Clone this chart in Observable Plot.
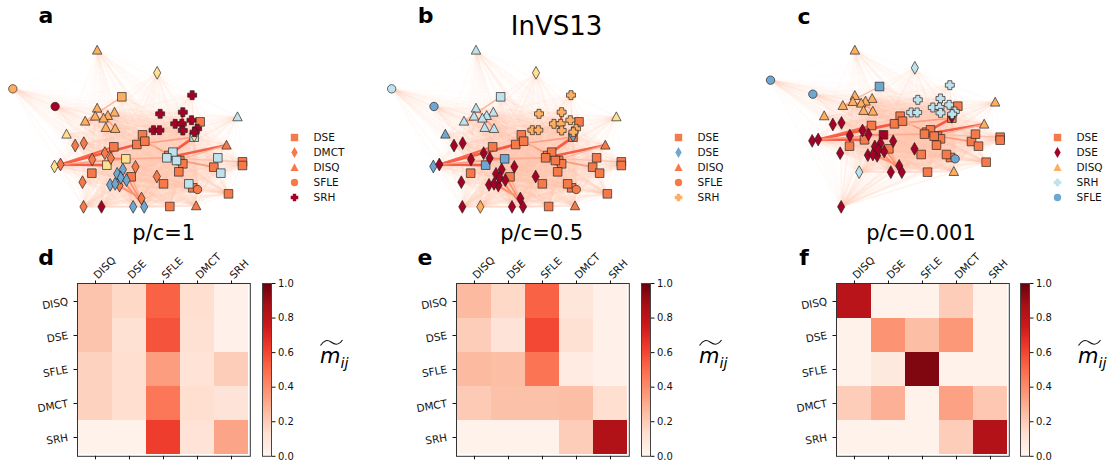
<!DOCTYPE html>
<html><head><meta charset="utf-8">
<script src="https://cdn.jsdelivr.net/npm/d3@7"></script>
<script src="https://cdn.jsdelivr.net/npm/@observablehq/plot@0.6"></script>
<style>
html,body{margin:0;padding:0;background:#fff}
#fig{position:relative;width:1111px;height:467px;overflow:hidden;font-family:"DejaVu Sans",sans-serif;color:#000}
#fig>svg,#fig>div{position:absolute}
.lab{font-weight:bold;font-size:22px;transform:translate(-50%,-50%);line-height:1}
.ttl{font-size:21px;transform:translate(-50%,-50%);line-height:1;white-space:nowrap}
.mij{font-size:21px;font-style:italic;line-height:1;white-space:nowrap}
.mij sub{font-size:14.5px;vertical-align:-5px;line-height:0}
</style></head><body><div id="fig"></div>
<script>
// node ids, shapes (layout units are 3x pixels)
const nodeId = ["s1","s2","s3","s4","s5","s6","s7","s8","s9","s10","s15","s16","s17","s18","s19","s21","s23","s25","s26","s27","s28","s11","s12","s13","s14","s20","s22","s24",
 "t1","t2","t3","t4","t5","t6","t7","t8","t9","t10","t11","t12","t13",
 "c1","c2","c3",
 "d1","d2","d3","d4","d5","d6","d7","d8","d9","d10","d11","d12","d13","d14","d15","d16","d17","d18","d19","d20","d21","d22","d23","d24",
 "p1","p2","p3","p4","p5","p6","p7","p8","p9","p10","p11"];
const nodeX = [364,426,409,433,340,376,319,274,392,599,505,538,547,535,489,577,640,726,726,684,508,581,517,499,528,565,652,661,
 290,290,342,322,284,309,254,316,344,198,711,678,587,
 37,164,591,
 470,224,250,313,275,331,162,180,405,469,246,357,367,350,361,378,329,344,423,398,431,249,303,581,
 575,479,547,573,524,544,459,477,547,590,582];
const nodeYab = [289,403,432,422,439,475,494,518,529,364,465,480,490,514,550,562,500,484,495,580,618,410,455,472,480,550,472,518,
 149,323,335,345,347,353,362,381,384,401,349,434,616,
 265,318,567,
 217,435,428,458,477,473,498,492,499,528,545,555,507,520,532,539,553,550,594,619,619,619,619,405,
 284,340,335,359,370,370,389,389,390,385,395];
const nodeYc = [258,347,370,362,375,403,418,437,445,317,395,407,415,434,462,471,423,410,419,485,515,353,388,401,407,462,401,437,
 149,285,294,302,303,308,315,330,332,346,305,371,513,
 239,281,475,
 202,372,367,390,405,402,421,417,422,445,458,466,428,438,448,453,464,462,496,515,515,619,515,349,
 254,298,294,313,321,321,336,336,337,333,341];
// community class of every node, one letter per node: O orange, L light orange, Y yellow, B pale blue, M mid blue, R dark red
const classA = "LOOOOYYOOOOOOOOOOOOOOBBBBBBBLLLLLLLLLYBOOLRO" + "YOOOOOYOOOOOMMMMMMOMMORY" + "RRRRRRRRRRR";
const classB = "BOOOOMMOOOOOOOOOOOOOOOOOOOOOBBBBBBBBBMYOOBMO" + "YRRRRRMRRRRRRRRRRRRRRRLM" + "LLLLLLLLLLL";
const classC = "MOOOOROOOOOOOOOOOOOOOOOOOOOOLLLLLLLLLLLLLMMM" + "BRRRRRRRRRRRRRRRRRRRRRBR" + "BBBBBBBBBBB";
const classDomain = ["O","L","Y","B","M","R"];
const classColors = ["#f67a49","#fdae61","#fee090","#bfe2ec","#6fa7d1","#a50026"];
// nodes of the lower rim, whose pale edges read as a wider wash
const rimNodes = ["s28","t13","s27","d19","d20","d21","d22","d23","c3","s21"];
// the strong edges
const edgeFrom = ["d8","d8","d8","d8","s6","s4","s13","s13","s3","s12","s13","t12","p6","s7","d13","d14","d18","d12","s1","t7","t2","s9","s2","d6"];
const edgeTo   = ["s3","s7","s5","s6","s13","s16","s23","s25","s11","s11","t12","s14","p3","s5","d21","d21","d19","d19","t7","t6","t9","d21","s18","s6"];
const edgeW    = [0.56,0.56,0.52,0.34,0.3,0.36,0.36,0.24,0.34,0.56,0.55,0.28,0.6,0.5,0.4,0.42,0.44,0.36,0.27,0.38,0.34,0.3,0.2,0.42];
const edgeWid  = [2.7,2.7,2.1,1.7,1.8,1.7,1.7,1.3,1.6,2.6,2.6,1.3,2.2,1.9,1.6,1.7,1.7,1.5,1.4,1.6,1.6,1.3,1,1.6];

const categories = ["DISQ","DSE","SFLE","DMCT","SRH"];
const matrixD = [[.22,.15,.52,.13,.03],[.22,.12,.56,.12,.03],[.17,.13,.34,.11,.19],[.17,.13,.46,.13,.1],[.02,.02,.62,.11,.32]];
const matrixE = [[.25,.15,.52,.09,.03],[.19,.1,.59,.12,.03],[.25,.24,.47,.06,.03],[.2,.23,.23,.24,.13],[.02,.02,.02,.19,.84]];
const matrixF = [[.81,.02,.02,.19,.02],[.02,.37,.24,.36,.02],[.02,.07,.95,.02,.02],[.19,.28,.02,.33,.21],[.02,.02,.02,.19,.83]];
const redsStops = ["#fff5f0","#fee0d2","#fcbba1","#fc9272","#fb6a4a","#ef3b2c","#cb181d","#a50f15","#67000d"];
const redsAt = redsStops.map((_,i)=>i/8);
const redsScale = {type:"linear",domain:redsAt,range:redsStops,interpolate:"rgb"};
const redsFn = d3.scaleLinear(redsAt,redsStops);

const legendA = {labels:["DSE","DMCT","DISQ","SFLE","SRH"],shapes:["s","d","t","c","p"],classes:["O","O","O","O","R"]};
const legendB = {labels:["DSE","DSE","DISQ","SFLE","SRH"],shapes:["s","d","t","c","p"],classes:["O","M","O","O","L"]};
const legendC = {labels:["DSE","DSE","DISQ","SRH","SFLE"],shapes:["s","d","t","p","c"],classes:["O","R","L","B","M"]};

const sym = {
 s:{draw(c,z){const r=Math.sqrt(z/Math.PI);c.rect(-r,-r,2*r,2*r);}},
 d:{draw(c,z){const r=Math.sqrt(z/Math.PI);c.moveTo(0,-1.52*r);c.lineTo(.86*r,0);c.lineTo(0,1.52*r);c.lineTo(-.86*r,0);c.closePath();}},
 t:{draw(c,z){const r=Math.sqrt(z/Math.PI);c.moveTo(0,-1.15*r);c.lineTo(1.1*r,.92*r);c.lineTo(-1.1*r,.92*r);c.closePath();}},
 c:{draw(c,z){const r=Math.sqrt(z/Math.PI);c.moveTo(r,0);c.arc(0,0,r,0,2*Math.PI);c.closePath();}},
 p:{draw(c,z){const r=Math.sqrt(z/Math.PI)*1.02,a=.45*r;c.moveTo(-a,-r);c.lineTo(a,-r);c.lineTo(a,-a);c.lineTo(r,-a);c.lineTo(r,a);c.lineTo(a,a);c.lineTo(a,r);c.lineTo(-a,r);c.lineTo(-a,a);c.lineTo(-r,a);c.lineTo(-r,-a);c.lineTo(-a,-a);c.closePath();}}
};
const fig = document.getElementById("fig");
function place(el,l,t){el.style.left=l+"px";el.style.top=t+"px";fig.appendChild(el);return el;}
function label(cls,txt,x,y){const d=document.createElement("div");d.className=cls;d.textContent=txt;place(d,x,y);return d;}

function network(left,shift,ys,cls){
 const nodes = nodeId.map((id,i)=>({id,x:nodeX[i],y:ys[i],cl:cls[i],shape:id[0]}));
 const byId = new Map(nodes.map(n=>[n.id,n]));
 const pairs=[];
 for(let i=0;i<nodes.length;i++)for(let j=i+1;j<nodes.length;j++)pairs.push([nodes[i],nodes[j]]);
 const rimPairs = rimNodes.flatMap(id=>nodes.filter(n=>n.id!==id).map(n=>[byId.get(id),n]));
 const edges = edgeFrom.map((f,i)=>({a:byId.get(f),b:byId.get(edgeTo[i]),w:edgeW[i],sw:edgeWid[i]}));
 const groups = ["s","t","c","d","p"];
 const rank = c=>c==="O"?0:1;
 const rad = {s:4.3,t:4.3,c:4.2,d:4.2,p:4.4};
 const pale = {x1:d=>d[0].x,y1:d=>d[0].y,x2:d=>d[1].x,y2:d=>d[1].y,stroke:"#fdd0bd"};
 const marks = [
  Plot.link(pairs,{...pale,strokeOpacity:.042,strokeWidth:1.3}),
  Plot.link(rimPairs,{...pale,strokeOpacity:.04,strokeWidth:2})
 ];
 edges.forEach(e=>marks.push(Plot.link([e],{x1:d=>d.a.x,y1:d=>d.a.y,x2:d=>d.b.x,y2:d=>d.b.y,stroke:redsFn(e.w),strokeWidth:e.sw,strokeOpacity:.95})));
 groups.forEach(g=>{
  const sub = nodes.filter(n=>n.shape===g).sort((p,q)=>rank(p.cl)-rank(q.cl));
  marks.push(Plot.dot(sub,{x:"x",y:"y",fill:"cl",symbol:sym[g],r:rad[g],stroke:"#222",strokeWidth:.8,fillOpacity:1,strokeOpacity:.85}));
 });
 const p = Plot.plot({width:370,height:230,margin:0,
  x:{domain:[-shift,1110-shift],range:[0,370],axis:null},
  y:{domain:[0,690],range:[0,230],axis:null},
  color:{type:"ordinal",domain:classDomain,range:classColors},
  style:{background:"transparent",overflow:"visible"},marks});
 place(p,left,0);
}
function legend(left,L){
 const idx=[0,1,2,3,4];
 const p = Plot.plot({width:80,height:90,margin:0,
  x:{domain:[0,80],range:[0,80],axis:null},
  y:{type:"point",domain:idx,range:[8,70.7],padding:0,axis:null},
  color:{type:"ordinal",domain:classDomain,range:classColors},
  style:{background:"transparent",fontFamily:"DejaVu Sans"},
  marks:[
   ...idx.map(i=>Plot.dot([i],{y:d=>d,frameAnchor:"left",dx:10,symbol:sym[L.shapes[i]],r:3.7,fill:[L.classes[i]]})),
   Plot.text(idx,{y:d=>d,text:d=>L.labels[d],frameAnchor:"left",dx:29,textAnchor:"start",fontSize:10.5,fill:"#111"})
  ]});
 place(p,left,128);
}
function heat(left,top,M){
 const size=172.8, ml=60, mt=50, mb=10, mr=6;
 const cells = M.flatMap((row,i)=>row.map((v,j)=>({r:categories[i],c:categories[j],v})));
 const p = Plot.plot({width:size+ml+mr,height:size+mt+mb,marginLeft:ml,marginTop:mt,marginBottom:mb,marginRight:mr,
  x:{domain:categories,padding:0,label:null,axis:null},
  y:{domain:categories,padding:0,label:null,axis:null},
  color:redsScale,
  style:{background:"transparent",fontFamily:"DejaVu Sans",fontSize:"10.5px",color:"#111"},
  marks:[
   Plot.cell(cells,{x:"c",y:"r",fill:"v",inset:0}),
   Plot.frame({stroke:"#333",strokeWidth:1}),
   Plot.axisX({anchor:"top",tickRotate:-45,tickSize:3.5,tickPadding:3,label:null,fontSize:10.5}),
   Plot.axisX({anchor:"bottom",tickSize:3.5,tickFormat:()=>"",label:null}),
   Plot.axisY({anchor:"left",tickRotate:-10,tickSize:3.5,tickPadding:6,label:null,fontSize:10.5})
  ]});
 place(p,left-ml,top-mt);
}
function colorbar(left,top){
 const size=172.8, mt=6, mb=6, mr=30;
 const steps = d3.range(0,1,1/200);
 const p = Plot.plot({width:9+mr,height:size+mt+mb,marginLeft:0,marginRight:mr,marginTop:mt,marginBottom:mb,
  x:{domain:[0,1],axis:null},
  y:{domain:[0,1],label:null,axis:null},
  color:redsScale,
  style:{background:"transparent",fontFamily:"DejaVu Sans",fontSize:"10px",color:"#111"},
  marks:[
   Plot.rect(steps,{x1:0,x2:1,y1:d=>d,y2:d=>Math.min(1,d+.012),fill:d=>d,shapeRendering:"crispEdges"}),
   Plot.frame({stroke:"#444",strokeWidth:1}),
   Plot.axisY({anchor:"right",ticks:[0,.2,.4,.6,.8,1],tickFormat:d3.format(".1f"),tickSize:3.5,tickPadding:3,label:null,fontSize:10})
  ]});
 place(p,left,top-mt);
}
function mij(x,y){
 const d=document.createElement("div");d.className="mij";
 d.innerHTML='m<sub>ij</sub>';place(d,x,y);
 const s=d3.create("svg").attr("width",26).attr("height",10).style("left",(x-1)+"px").style("top",(y-8)+"px");
 s.append("path").attr("d","M1.5 7.5C5 2 8.5 1.5 12 4S19 8 23.5 2").attr("fill","none").attr("stroke","#111").attr("stroke-width",1.1);
 fig.appendChild(s.node());
}
network(0,0,nodeYab,classA);
network(370,26.5,nodeYab,classB);
network(741,50,nodeYc,classC);
legend(284,legendA);legend(668,legendB);legend(1047,legendC);
heat(77.3,283.3,matrixD);heat(456,283.3,matrixE);heat(835.5,283.3,matrixF);
colorbar(262.3,283.3);colorbar(641,283.3);colorbar(1020.4,283.3);
mij(320,346);mij(699,346);mij(1078,346);
label("lab","a",46,16);label("lab","b",425.7,16);label("lab","c",804,17);
label("lab","d",46,258);label("lab","e",425,258);label("lab","f",804,258);
label("ttl","InVS13",556.5,26).style.fontSize="26px";
label("ttl","p/c=1",163.7,233);label("ttl","p/c=0.5",541.7,233);label("ttl","p/c=0.001",921,233);
</script></body></html>
